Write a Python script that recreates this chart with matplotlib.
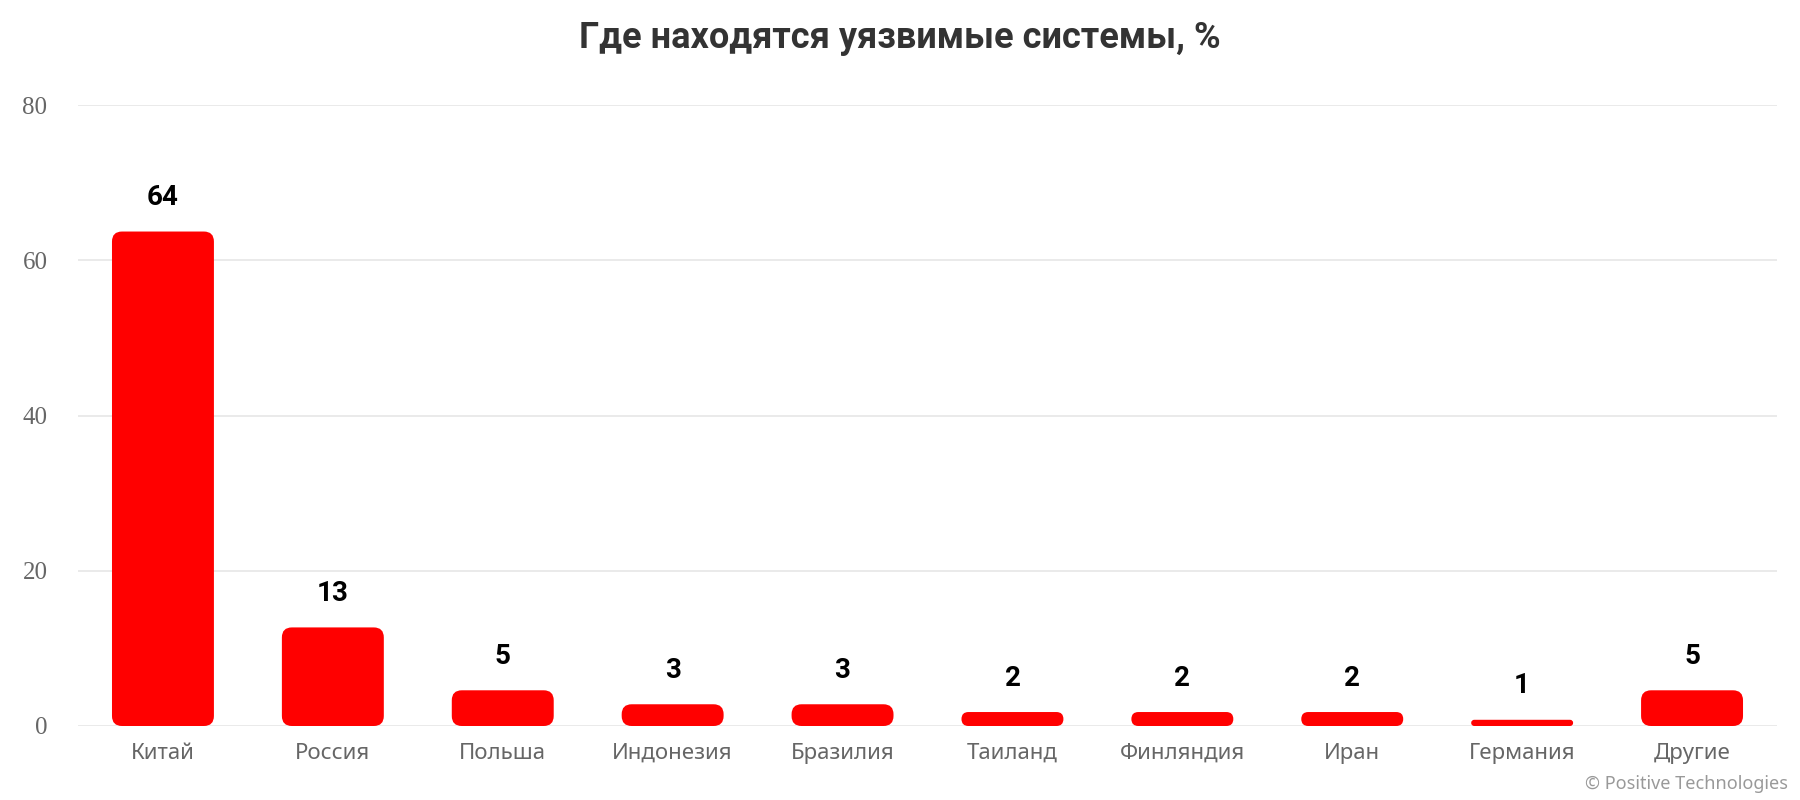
import matplotlib
matplotlib.use("Agg")
import matplotlib.pyplot as plt
from matplotlib.patches import FancyBboxPatch

# data
countries = ["Китай", "Россия", "Польша", "Индонезия", "Бразилия",
             "Таиланд", "Финляндия", "Иран", "Германия", "Другие"]
values = [63.7, 12.7, 4.6, 2.8, 2.8, 1.8, 1.8, 1.8, 0.8, 4.6]
labels = ["64", "13", "5", "3", "3", "2", "2", "2", "1", "5"]
y_ticks = [0, 20, 40, 60, 80]

W, H, DPI = 18, 8, 100
fig = plt.figure(figsize=(W, H), dpi=DPI)
fig.patch.set_facecolor("white")
ax = fig.add_axes([78 / 1800, 1 - 726 / 800, (1777 - 78) / 1800, (726 - 105) / 800])

n = len(countries)
ax.set_xlim(-0.5, n - 0.5)
ax.set_ylim(0, 80)

# pixel scale of data units, used to keep the corner radius round
ax_w_px = (1777 - 78)
ax_h_px = (726 - 105)
px_x = ax_w_px / n
px_y = ax_h_px / 80.0
aspect = px_x / px_y

bar_w = 0.6
r_px = 10
for i, v in enumerate(values):
    h_px = v * px_y
    r = min(r_px, h_px / 2) / px_x
    patch = FancyBboxPatch((i - bar_w / 2, 0), bar_w, v,
                           boxstyle=f"round,pad=0,rounding_size={r}",
                           mutation_aspect=aspect,
                           facecolor="#ff0000", edgecolor="none", zorder=3)
    ax.add_patch(patch)
    ax.annotate(labels[i], (i, v), xytext=(0, 34), textcoords="offset pixels",
                ha="center", va="center", fontsize=20, fontweight="bold",
                color="black", family=["Roboto", "DejaVu Sans"], zorder=4)

ax.set_yticks(y_ticks)
ax.set_yticklabels([str(t) for t in y_ticks], fontsize=18, color="#666666",
                   family=["Liberation Serif", "DejaVu Serif"])
ax.set_xticks(range(n))
ax.set_xticklabels(countries, fontsize=16, color="#666666",
                   family=["Noto Sans", "DejaVu Sans"])
ax.tick_params(axis="both", length=0)
ax.tick_params(axis="y", pad=22)
ax.tick_params(axis="x", pad=12)

ax.grid(axis="y", color="#e6e6e6", linewidth=1.2, zorder=0)
ax.set_axisbelow(True)
for s in ax.spines.values():
    s.set_visible(False)

fig.text(0.5, 1 - 38 / 800, "Где находятся уязвимые системы, %", ha="center",
         va="center", fontsize=26, fontweight="bold", color="#333333",
         family=["Roboto", "DejaVu Sans"])
fig.text(1788 / 1800, 1 - 784 / 800, "© Positive Technologies", ha="right",
         va="center", fontsize=13, color="#999999",
         family=["Noto Sans", "DejaVu Sans"])

fig.savefig("out.png", dpi=DPI, facecolor="white")
